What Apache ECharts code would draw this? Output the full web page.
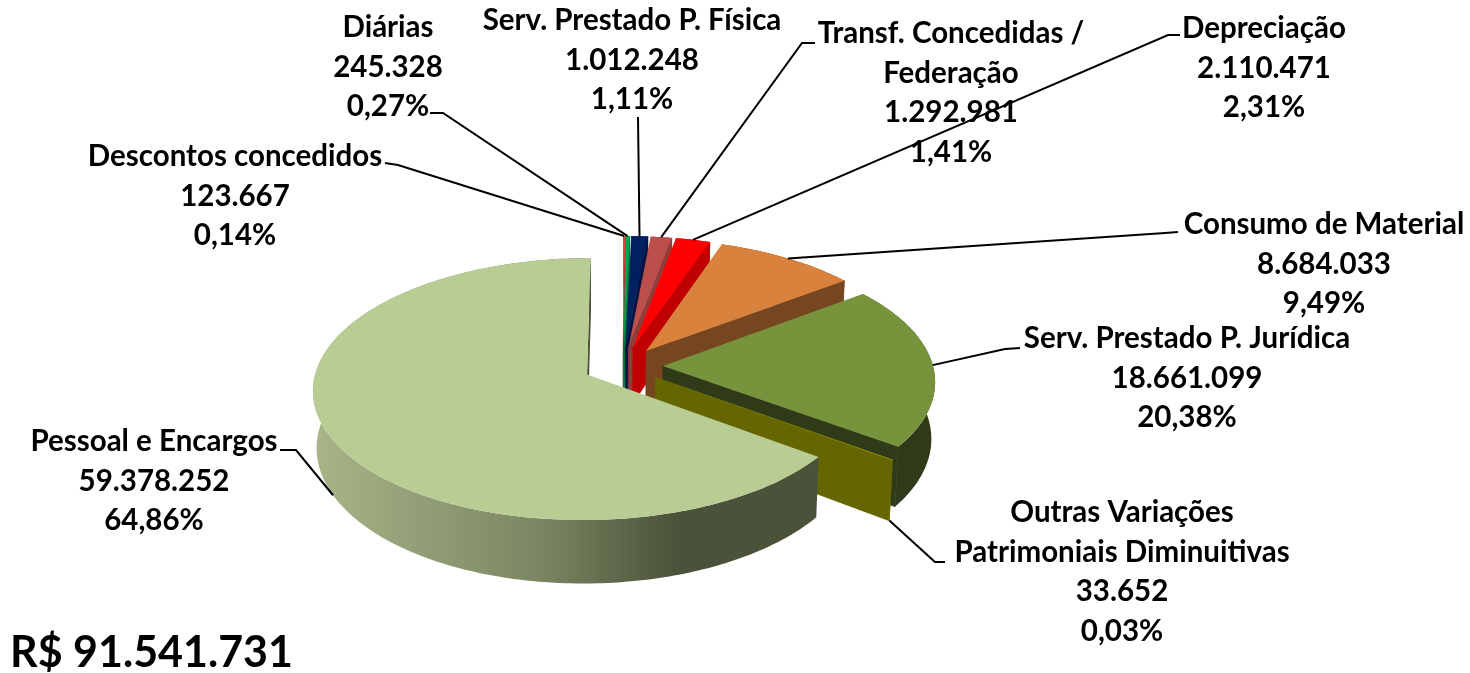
<!DOCTYPE html>
<html><head><meta charset="utf-8">
<style>html,body{margin:0;padding:0;background:#fff}#c{width:1470px;height:673px}</style>
<script src="https://cdn.jsdelivr.net/npm/echarts@6/dist/echarts.min.js"></script>
</head><body><div id="c"></div>
<script>
const sliceNames = ['Descontos concedidos','Diárias','Serv. Prestado P. Física','Transf. Concedidas /\nFederação','Depreciação','Consumo de Material','Serv. Prestado P. Jurídica','Outras Variações\nPatrimoniais Diminuitivas','Pessoal e Encargos'];
const sliceValues = [123667,245328,1012248,1292981,2110471,8684033,18661099,33652,59378252];
const percentLabels = ['0,14%','0,27%','1,11%','1,41%','2,31%','9,49%','20,38%','0,03%','64,86%'];
const totalLabel = 'R$ 91.541.731';

// styles and layout, separate from the data
const topColors  = ['#E8403C','#00A650','#002060','#BC4F4C','#FF0000','#D8823D','#77933C','#E6E600','#B8CC94'];
const wallColors = ['#A02020','#007A3A','#001440','#8F3C3A','#C00000','#754620','#2F3A18','#666600',null];
const labelLayout = [
  {x:235,y:196,elbow:[[385,163],[398,165]]},
  {x:388,y:67,elbow:[[430,113],[443,113]]},
  {x:632,y:60,elbow:[[638,117],[638,117]]},
  {x:951,y:93,elbow:[[815,43],[802,43]]},
  {x:1264,y:68,elbow:[[1180,35],[1168,35]]},
  {x:1324,y:264,elbow:[[1178,232],[1165,233]]},
  {x:1187,y:378,elbow:[[1020,348],[1005,349]]},
  {x:1122,y:572,elbow:[[945,562],[935,562]],wall:true},
  {x:154,y:481,elbow:[[280,450],[296,450]],wall:true}
];
const FONT = 'Lato, "Noto Sans", sans-serif';
const pie = {bx:623,by:366,sx:270,sy:127.5,p:0.11,depth:56,taper:0.988,explode:0.148};

const total = sliceValues.reduce((a,b)=>a+b,0);
const fmt = v => String(v).replace(/\B(?=(\d{3})+$)/g,'.');
const starts = []; { let c=0; sliceValues.forEach(v=>{starts.push(c/total*360); c+=v;}); }

function project(u,v){ const w=1+pie.p*v; return [pie.bx+pie.sx*u/w, pie.by-pie.sy*v/w, w]; }
function lower(pt){ return [pie.bx+(pt[0]-pie.bx)*pie.taper, pt[1]+pie.depth/pt[2]]; }
function pointAt(deg,midDeg,r){
  const a=deg*Math.PI/180,m=midDeg*Math.PI/180;
  return project(r*Math.sin(a)+pie.explode*Math.sin(m), r*Math.cos(a)+pie.explode*Math.cos(m));
}
const xy = p => [p[0],p[1]];

function renderSlice(params,api){
  const i=params.dataIndex, val=api.value(0);
  const a0=starts[i], a1=a0+val/total*360, mid=(a0+a1)/2;
  const n=Math.max(2,Math.ceil((a1-a0)/1));
  const arc=[]; for(let k=0;k<=n;k++) arc.push(pointAt(a0+(a1-a0)*k/n,mid,1));
  const apex=pointAt(0,mid,0);
  const arcLow=arc.map(lower), apexLow=lower(apex);
  const wallFill = wallColors[i] || new echarts.graphic.LinearGradient(0,0,1,0,[
    {offset:0,color:'#A8B588'},{offset:0.45,color:'#7A8662'},{offset:0.72,color:'#4A5239'},{offset:1,color:'#4A5239'}]);
  const faceFill = wallColors[i] || '#4A5239';
  const children=[];
  const poly=(pts,fill,stroke)=>children.push({type:'polygon',shape:{points:pts},style:{fill:fill,stroke:stroke||null,lineWidth:stroke?0.8:0},silent:true});
  poly(arc.map(xy).concat(arcLow.slice().reverse()),wallFill);
  poly([xy(apex),xy(arc[n]),arcLow[n],apexLow],faceFill,wallColors[i]);
  poly([xy(apex)].concat(arc.map(xy)),topColors[i]);
  return {type:'group',children};
}
function renderLabel(params,api){
  const i=params.dataIndex, val=api.value(0);
  const a0=starts[i], a1=a0+val/total*360, mid=(a0+a1)/2;
  const L=labelLayout[i];
  const pt=pointAt(mid,mid,1);
  const end=L.wall?lower(pt):xy(pt);
  const children=[{type:'polyline',shape:{points:[L.elbow[0],L.elbow[1],end]},style:{stroke:'#000',lineWidth:2,fill:null},silent:true}];
  children.push({type:'text',silent:true,style:{
    x:L.x,y:L.y,text:sliceNames[i]+'\n'+fmt(val)+'\n'+percentLabels[i],
    align:'center',verticalAlign:'middle',lineHeight:39.5,
    font:'bold 29.5px '+FONT,fill:'#000'}});
  return {type:'group',children};
}
const seriesData = sliceValues.map((v,i)=>({name:sliceNames[i],value:[v]}));
const chart=echarts.init(document.getElementById('c'),null,{renderer:'canvas'});
chart.setOption({
  animation:false,backgroundColor:'#fff',
  graphic:[{type:'text',left:10,top:632,silent:true,style:{text:totalLabel,font:'bold 43px '+FONT,fill:'#000'}}],
  series:[
    {type:'custom',coordinateSystem:'none',renderItem:renderSlice,data:seriesData,silent:true,z:2,clip:false},
    {type:'custom',coordinateSystem:'none',renderItem:renderLabel,data:seriesData,silent:true,z:3,clip:false}
  ]
});
</script></body></html>
